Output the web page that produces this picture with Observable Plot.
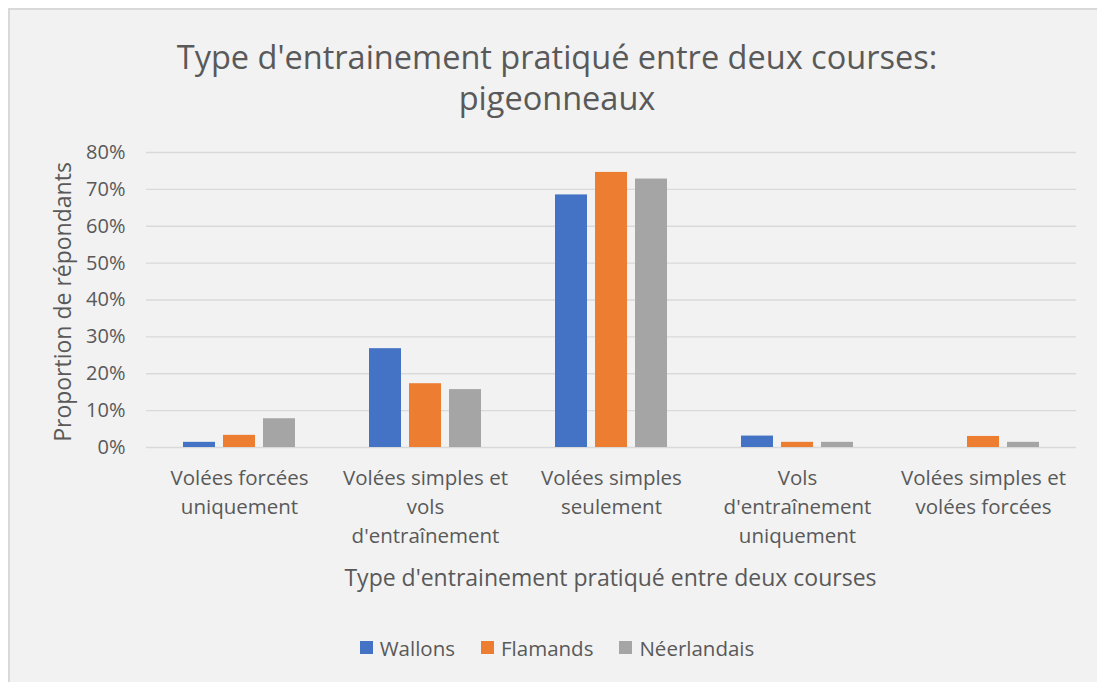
<!DOCTYPE html>
<html>
<head>
<meta charset="utf-8">
<script src="https://cdn.jsdelivr.net/npm/d3@7"></script>
<script src="https://cdn.jsdelivr.net/npm/@observablehq/plot@0.6"></script>
<style>
  html, body { margin: 0; padding: 0; background: #ffffff; }
  body { width: 1097px; height: 682px; position: relative; overflow: hidden; font-family: "Open Sans", sans-serif; }
  #frame { position: absolute; left: 8px; top: 8px; width: 1100px; height: 700px; background: #f2f2f2; border: 2px solid #d9d9d9; box-sizing: border-box; }
  #title { position: absolute; left: 0; width: 1114px; top: 36px; text-align: center; font-size: 32.5px; line-height: 41px; color: #595959; }
  #chart { position: absolute; left: 0; top: 130px; }
  #xtitle { position: absolute; left: 145px; width: 931px; top: 561px; text-align: center; font-size: 23px; color: #595959; }
  #ytitle { position: absolute; left: 62px; top: 302px; transform: translate(-50%, -50%) rotate(-90deg); white-space: nowrap; font-size: 23px; color: #595959; }
  #legend { position: absolute; left: 0; width: 1114px; top: 631px; display: flex; justify-content: center; }
  .lg-swatch { margin-right: 26px !important; }
  .lg-swatch:last-child { margin-right: 0 !important; }
  .lg-swatch > svg { margin-right: 7px !important; }
</style>
</head>
<body>
<div id="frame"></div>
<div id="title">Type d'entrainement pratiqué entre deux courses:<br>pigeonneaux</div>
<div id="chart"></div>
<div id="xtitle">Type d'entrainement pratiqué entre deux courses</div>
<div id="ytitle">Proportion de répondants</div>
<div id="legend"></div>
<script>
const categories = [
  "Volées forcées uniquement",
  "Volées simples et vols d'entraînement",
  "Volées simples seulement",
  "Vols d'entraînement uniquement",
  "Volées simples et volées forcées"
];
const categoryLabels = [
  "Volées forcées\nuniquement",
  "Volées simples et\nvols\nd'entraînement",
  "Volées simples\nseulement",
  "Vols\nd'entraînement\nuniquement",
  "Volées simples et\nvolées forcées"
];
const series = ["Wallons", "Flamands", "Néerlandais"];
const colors = ["#4472c4", "#ed7d31", "#a5a5a5"];
const wallons = [0.014, 0.268, 0.685, 0.031, 0.0];
const flamands = [0.033, 0.173, 0.746, 0.014, 0.030];
const neerlandais = [0.078, 0.157, 0.728, 0.014, 0.014];
const yTicks = [0, 0.1, 0.2, 0.3, 0.4, 0.5, 0.6, 0.7, 0.8];

const seriesValues = [wallons, flamands, neerlandais];
const data = [];
categories.forEach((c, i) => {
  series.forEach((s, j) => data.push({category: c, series: s, value: seriesValues[j][i]}));
});

const plot = Plot.plot({
  width: 1097,
  height: 467,
  marginLeft: 145,
  marginRight: 21,
  marginTop: 22,
  marginBottom: 150,
  style: {background: "transparent", fontFamily: "Open Sans, sans-serif", color: "#595959"},
  fx: {domain: categories, padding: 0, label: null},
  x: {domain: series, paddingInner: 0.195, paddingOuter: 0.87, axis: null},
  y: {domain: [0, 0.8], label: null},
  color: {domain: series, range: colors},
  marks: [
    Plot.gridY(yTicks, {stroke: "#d9d9d9", strokeOpacity: 1, strokeWidth: 1.3}),
    Plot.barY(data, {fx: "category", x: "series", y: "value", fill: "series"}),
    Plot.axisY(yTicks, {tickSize: 0, tickPadding: 21, tickFormat: d3.format(".0%"), fontSize: 20, label: null, fill: "#595959"}),
    Plot.axisFx({anchor: "bottom", tickSize: 0, tickPadding: 17, fontSize: 20.5, lineHeight: 1.42, label: null, fill: "#595959",
      tickFormat: d => categoryLabels[categories.indexOf(d)]})
  ]
});
document.getElementById("chart").appendChild(plot);

const legend = Plot.legend({
  color: {domain: series, range: colors},
  swatchSize: 13,
  className: "lg",
  style: {fontSize: "20.5px", fontFamily: "Open Sans, sans-serif", color: "#595959", background: "transparent"}
});
document.getElementById("legend").appendChild(legend);
</script>
</body>
</html>
